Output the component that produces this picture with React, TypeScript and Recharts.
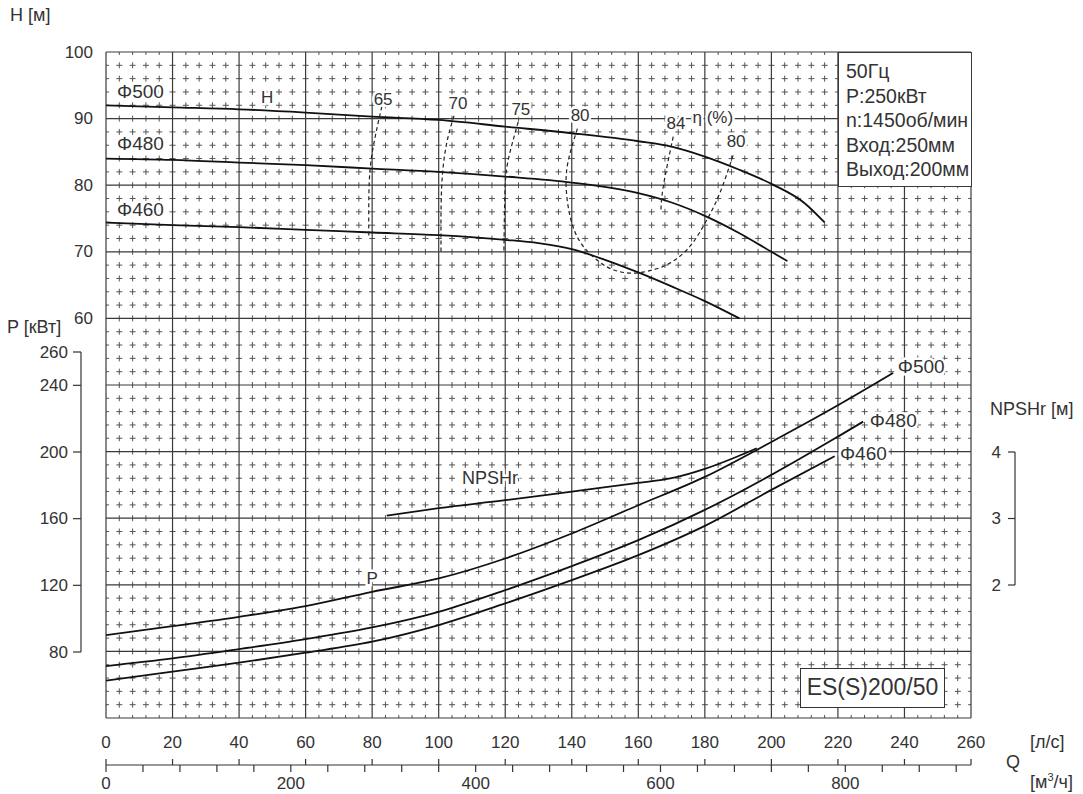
import React from 'react';
import { ComposedChart, LineChart, Line, XAxis, YAxis, ReferenceLine, ReferenceDot } from 'recharts';

const FONT = '"Liberation Sans", Arial, Helvetica, sans-serif';
const TXT = '#333';

// ---- axis ticks ----
const qTicks = [0, 20, 40, 60, 80, 100, 120, 140, 160, 180, 200, 220, 240, 260];
const m3Ticks = [0, 40, 80, 120, 160, 200, 240, 280, 320, 360, 400, 440, 480, 520, 560, 600, 640, 680, 720, 760, 800, 840, 880, 920];
const m3Labelled = [0, 200, 400, 600, 800];
const hTicks = [60, 70, 80, 90, 100];
const pTicks = [80, 120, 160, 200, 240, 260];
const npshTicks = [2, 3, 4];
const pAxisRange = [{ v: 80 }, { v: 260 }];
const npshAxisRange = [{ v: 2 }, { v: 4 }];
const m3AxisRange = [{ v: 0, y: 0 }, { v: 936, y: 0 }];

// ---- grid ----
const hGridMajor = [0, 10, 20, 30, 40, 50, 60, 70, 80, 90, 100];
const qGridMinor = Array.from({ length: 66 }, (_, i) => i * 4).filter((v) => v % 20 !== 0);
const hGridMinor = Array.from({ length: 51 }, (_, i) => i * 2).filter((v) => v % 10 !== 0);

// ---- H-Q curves (Q l/s, H m) ----
const qH500 = [0, 20, 40, 60, 80, 100, 120, 140, 160, 170, 180, 190, 200, 210, 216];
const hH500 = [92.0, 91.7, 91.4, 90.9, 90.3, 89.8, 88.8, 87.8, 86.6, 85.8, 84.3, 82.4, 80.2, 77.3, 74.4];
const qH480 = [0, 20, 40, 60, 80, 100, 120, 140, 160, 170, 180, 190, 200, 204.8];
const hH480 = [84.0, 83.8, 83.4, 83.0, 82.5, 82.0, 81.3, 80.4, 78.8, 77.4, 75.4, 72.9, 70.0, 68.6];
const qH460 = [0, 20, 40, 60, 80, 100, 120, 130, 140, 150, 160, 170, 180, 190.4];
const hH460 = [74.4, 74.0, 73.7, 73.3, 72.9, 72.5, 71.8, 71.3, 70.4, 68.8, 66.9, 64.8, 62.6, 60.0];

// ---- efficiency contours (Q, H) ----
const qEta65 = [82.9, 81.0, 79.5, 79.0, 79.0];
const hEta65 = [91.8, 87.5, 83.0, 78.0, 72.0];
const qEta70 = [104.6, 102.4, 100.9, 100.7];
const hEta70 = [90.4, 86.3, 79.8, 70.0];
const qEta75 = [123.9, 120.9, 119.9, 119.6];
const hEta75 = [89.5, 83.8, 78.8, 69.9];
const qEta80 = [141.7, 139.0, 138.3, 139.5, 142.5, 147.5, 152.5, 158.5, 164.5, 169.5, 175.5, 180.6, 184.5, 188.5];
const hEta80 = [88.5, 83.8, 79.8, 75.3, 71.5, 68.8, 67.3, 66.8, 67.3, 68.3, 70.8, 74.8, 78.8, 84.5];
const qEta84 = [170.5, 167.5, 166.8];
const hEta84 = [87.3, 79.8, 76.0];

// ---- P-Q curves (Q l/s, P kW) ----
const qP500 = [0, 20, 40, 60, 80, 100, 120, 140, 160, 180, 200, 220, 236.6];
const pP500 = [89.8, 95.2, 100.8, 107.2, 115.8, 123.8, 135.8, 150.8, 167.8, 184.8, 205.8, 227.8, 247.2];
const qP480 = [0, 20, 40, 60, 80, 100, 120, 140, 160, 180, 200, 220, 227.6];
const pP480 = [71.2, 75.8, 81.4, 87.4, 94.4, 103.8, 116.8, 131.2, 146.8, 165.0, 186.0, 209.0, 218.0];
const qP460 = [0, 20, 40, 60, 80, 100, 120, 140, 160, 180, 200, 219];
const pP460 = [62.4, 67.8, 73.2, 79.2, 85.8, 95.8, 108.8, 122.8, 137.8, 155.4, 177.0, 197.2];

// ---- NPSHr (Q l/s, m) ----
const qNpsh = [84.4, 100, 120, 140, 160, 170, 180, 188.5, 195.6];
const mNpsh = [3.04, 3.15, 3.27, 3.40, 3.53, 3.60, 3.74, 3.90, 4.05];

// ---- curve labels ----
const hLabels = [
  { t: 'Φ500', q: 3.3, v: 94.0, a: 'start', s: 19 },
  { t: 'Φ480', q: 3.3, v: 86.2, a: 'start', s: 19 },
  { t: 'Φ460', q: 3.3, v: 76.3, a: 'start', s: 19 },
  { t: 'H', q: 48.4, v: 93.1, a: 'middle', s: 17 },
  { t: '65', q: 83.3, v: 92.9, a: 'middle', s: 17 },
  { t: '70', q: 105.8, v: 92.2, a: 'middle', s: 17 },
  { t: '75', q: 124.7, v: 91.4, a: 'middle', s: 17 },
  { t: '80', q: 142.5, v: 90.4, a: 'middle', s: 17 },
  { t: '84', q: 171.3, v: 89.2, a: 'middle', s: 17 },
  { t: 'η (%)', q: 182.4, v: 90.1, a: 'middle', s: 17 },
  { t: '80', q: 189.4, v: 86.6, a: 'middle', s: 17 },
];
const pLabels = [
  { t: 'P', q: 80.0, v: 124, a: 'middle', s: 17 },
  { t: 'Φ500', q: 238.0, v: 251.2, a: 'start', s: 19 },
  { t: 'Φ480', q: 229.6, v: 218.8, a: 'start', s: 19 },
  { t: 'Φ460', q: 220.6, v: 199, a: 'start', s: 19 },
];
const nLabels = [{ t: 'NPSHr', q: 115.4, v: 3.6, a: 'middle', s: 18 }];

const infoLines = ['50Гц', 'P:250кВт', 'n:1450об/мин', 'Вход:250мм', 'Выход:200мм'];
const modelName = 'ES(S)200/50';

const zip = (xs: number[], ys: number[]) => xs.map((x, i) => ({ x, y: ys[i] }));

const QTick = (props: any) => {
  const { x, y, payload } = props;
  return (
    <g>
      <text x={x} y={y} textAnchor="middle" dominantBaseline="central" fontSize={17} fill={TXT} fontFamily={FONT}>
        {payload.value}
      </text>
      <line x1={x} x2={x} y1={y + 17} y2={y + 23} stroke="#333" strokeWidth={1.2} />
    </g>
  );
};

const MTick = (props: any) => {
  const { x, y, payload } = props;
  if (!m3Labelled.includes(payload.value)) return <g />;
  return (
    <text x={x} y={y} textAnchor="middle" dominantBaseline="central" fontSize={17} fill={TXT} fontFamily={FONT}>
      {payload.value}
    </text>
  );
};

const LeftTick = (props: any) => {
  const { x, y, payload } = props;
  return (
    <text x={x} y={y} textAnchor="end" dominantBaseline="central" fontSize={17} fill={TXT} fontFamily={FONT}>
      {payload.value}
    </text>
  );
};

const makeLabel = (t: string, anchor: string, size: number) => (p: any) => {
  const vb = p.viewBox || {};
  const cx = (vb.x || 0) + (vb.width || 0) / 2;
  const cy = (vb.y || 0) + (vb.height || 0) / 2;
  return (
    <text
      x={cx}
      y={cy}
      textAnchor={anchor}
      dominantBaseline="central"
      fontSize={size}
      fill={TXT}
      fontFamily={FONT}
      stroke="#fff"
      strokeWidth={5}
      paintOrder="stroke"
    >
      {t}
    </text>
  );
};

const html = (text: React.ReactNode, left: number, top: number, size: number, extra: any = {}) => (
  <div
    style={{
      position: 'absolute',
      left,
      top,
      fontSize: size,
      lineHeight: 1,
      fontFamily: FONT,
      color: TXT,
      whiteSpace: 'nowrap',
      ...extra,
    }}
  >
    {text}
  </div>
);

const MAJOR = { stroke: '#3a3a3a', strokeWidth: 1.2 };
const MINOR_V = { stroke: '#555', strokeWidth: 1, strokeDasharray: '6 7.32', strokeDashoffset: 3 };
const MINOR_H = { stroke: '#555', strokeWidth: 1, strokeDasharray: '6 7.31', strokeDashoffset: 3 };

export default function App() {
  const solid = { stroke: '#111', strokeWidth: 1.8, dot: false, isAnimationActive: false, activeDot: false };
  const dashed = { stroke: '#222', strokeWidth: 1.2, strokeDasharray: '4 3', dot: false, isAnimationActive: false, activeDot: false };
  return (
    <div style={{ position: 'absolute', left: 0, top: 0, width: 1083, height: 794, background: '#fff' }}>
      <div style={{ position: 'absolute', left: 0, top: 0 }}>
        <ComposedChart width={1083} height={794} margin={{ top: 52, right: 112, bottom: 29, left: 46 }}>
          <XAxis
            xAxisId="q"
            dataKey="x"
            type="number"
            domain={[0, 260]}
            ticks={qTicks}
            interval={0}
            height={47}
            axisLine={false}
            tickLine={false}
            tickSize={0}
            tickMargin={24}
            tick={<QTick />}
            allowDataOverflow
          />
          <YAxis
            yAxisId="h"
            type="number"
            domain={[0, 100]}
            ticks={hTicks}
            interval={0}
            width={60}
            axisLine={false}
            tickLine={false}
            tickSize={0}
            tickMargin={13}
            tick={<LeftTick />}
            allowDataOverflow
          />
          <YAxis yAxisId="p" type="number" domain={[40, 440]} hide allowDataOverflow />
          <YAxis yAxisId="n" type="number" domain={[0, 10]} hide allowDataOverflow />

          {qGridMinor.map((v) => (
            <ReferenceLine key={'qm' + v} xAxisId="q" yAxisId="h" x={v} {...MINOR_V} />
          ))}
          {hGridMinor.map((v) => (
            <ReferenceLine key={'hm' + v} xAxisId="q" yAxisId="h" y={v} {...MINOR_H} />
          ))}
          {qTicks.map((v) => (
            <ReferenceLine key={'qM' + v} xAxisId="q" yAxisId="h" x={v} {...MAJOR} />
          ))}
          {hGridMajor.map((v) => (
            <ReferenceLine key={'hM' + v} xAxisId="q" yAxisId="h" y={v} {...MAJOR} />
          ))}

          <Line data={zip(qH500, hH500)} dataKey="y" xAxisId="q" yAxisId="h" type="monotone" {...solid} />
          <Line data={zip(qH480, hH480)} dataKey="y" xAxisId="q" yAxisId="h" type="monotone" {...solid} />
          <Line data={zip(qH460, hH460)} dataKey="y" xAxisId="q" yAxisId="h" type="monotone" {...solid} />

          <Line data={zip(qEta65, hEta65)} dataKey="y" xAxisId="q" yAxisId="h" type="natural" {...dashed} />
          <Line data={zip(qEta70, hEta70)} dataKey="y" xAxisId="q" yAxisId="h" type="natural" {...dashed} />
          <Line data={zip(qEta75, hEta75)} dataKey="y" xAxisId="q" yAxisId="h" type="natural" {...dashed} />
          <Line data={zip(qEta80, hEta80)} dataKey="y" xAxisId="q" yAxisId="h" type="natural" {...dashed} />
          <Line data={zip(qEta84, hEta84)} dataKey="y" xAxisId="q" yAxisId="h" type="natural" {...dashed} />

          <Line data={zip(qP500, pP500)} dataKey="y" xAxisId="q" yAxisId="p" type="monotone" {...solid} />
          <Line data={zip(qP480, pP480)} dataKey="y" xAxisId="q" yAxisId="p" type="monotone" {...solid} />
          <Line data={zip(qP460, pP460)} dataKey="y" xAxisId="q" yAxisId="p" type="monotone" {...solid} />

          <Line data={zip(qNpsh, mNpsh)} dataKey="y" xAxisId="q" yAxisId="n" type="monotone" {...solid} />

          {hLabels.map((l, i) => (
            <ReferenceDot key={'hl' + i} xAxisId="q" yAxisId="h" x={l.q} y={l.v} r={0} fill="none" stroke="none" label={makeLabel(l.t, l.a, l.s)} />
          ))}
          {pLabels.map((l, i) => (
            <ReferenceDot key={'pl' + i} xAxisId="q" yAxisId="p" x={l.q} y={l.v} r={0} fill="none" stroke="none" label={makeLabel(l.t, l.a, l.s)} />
          ))}
          {nLabels.map((l, i) => (
            <ReferenceDot key={'nl' + i} xAxisId="q" yAxisId="n" x={l.q} y={l.v} r={0} fill="none" stroke="none" label={makeLabel(l.t, l.a, l.s)} />
          ))}
        </ComposedChart>
      </div>

      {/* Q axis in m3/h (0..936 = 0..260 l/s) */}
      <div style={{ position: 'absolute', left: 0, top: 0 }}>
        <LineChart width={1083} height={794} data={m3AxisRange} margin={{ top: 700, right: 112, bottom: 0, left: 106 }}>
          <XAxis
            dataKey="v"
            type="number"
            domain={[0, 936]}
            ticks={m3Ticks}
            interval={0}
            height={29}
            axisLine={{ stroke: '#333', strokeWidth: 1.2 }}
            tickLine={{ stroke: '#333', strokeWidth: 1.2 }}
            tickSize={7}
            tickMargin={11}
            tick={<MTick />}
            allowDataOverflow
          />
          <YAxis hide domain={[0, 1]} type="number" />
          <Line dataKey="y" stroke="none" dot={false} activeDot={false} isAnimationActive={false} />
        </LineChart>
      </div>

      {/* P axis (80..260 kW) */}
      <div style={{ position: 'absolute', left: 0, top: 0 }}>
        <LineChart width={100} height={794} data={pAxisRange} margin={{ top: 352, bottom: 142, left: 0, right: 9 }}>
          <YAxis
            dataKey="v"
            type="number"
            domain={[80, 260]}
            ticks={pTicks}
            interval={0}
            width={81}
            axisLine={{ stroke: '#333', strokeWidth: 1.2 }}
            tickLine={{ stroke: '#333', strokeWidth: 1.2 }}
            tickSize={8}
            tickMargin={5}
            tick={<LeftTick />}
            allowDataOverflow
          />
          <Line dataKey="v" stroke="none" dot={false} activeDot={false} isAnimationActive={false} />
        </LineChart>
      </div>

      {/* NPSHr axis (2..4 m) */}
      <div style={{ position: 'absolute', left: 940, top: 0 }}>
        <LineChart width={100} height={794} data={npshAxisRange} margin={{ top: 452, bottom: 209, left: 0, right: 15 }}>
          <YAxis
            dataKey="v"
            type="number"
            domain={[2, 4]}
            ticks={npshTicks}
            interval={0}
            width={75}
            axisLine={{ stroke: '#333', strokeWidth: 1.2 }}
            tickLine={{ stroke: '#333', strokeWidth: 1.2 }}
            tickSize={7}
            tickMargin={7}
            tick={<LeftTick />}
            allowDataOverflow
          />
          <Line dataKey="v" stroke="none" dot={false} activeDot={false} isAnimationActive={false} />
        </LineChart>
      </div>

      {/* info box */}
      <div
        style={{
          position: 'absolute',
          left: 838,
          top: 52,
          width: 134,
          height: 135,
          boxSizing: 'border-box',
          border: '1.2px solid #3a3a3a',
          background: '#fff',
          paddingLeft: 7,
          paddingTop: 6,
          fontFamily: FONT,
          fontSize: 19.5,
          lineHeight: '24.5px',
          color: TXT,
          whiteSpace: 'nowrap',
          overflow: 'hidden',
        }}
      >
        {infoLines.map((s, i) => (
          <div key={i}>{s}</div>
        ))}
      </div>

      {/* model box */}
      <div
        style={{
          position: 'absolute',
          left: 800,
          top: 668,
          width: 145,
          height: 40,
          boxSizing: 'border-box',
          border: '1.3px solid #333',
          background: '#fff',
          fontFamily: FONT,
          fontSize: 23,
          lineHeight: '37px',
          textAlign: 'center',
          color: TXT,
          whiteSpace: 'nowrap',
        }}
      >
        {modelName}
      </div>

      {html('H [м]', 10, 6, 18)}
      {html('P [кВт]', 7, 318, 18)}
      {html('NPSHr [м]', 990, 400, 18)}
      {html('[л/с]', 1030, 733, 18)}
      {html('Q', 1006, 753, 18)}
      {html(<span>[м<sup style={{ fontSize: 11, lineHeight: 0 }}>3</sup>/ч]</span>, 1030, 773, 18)}
    </div>
  );
}
